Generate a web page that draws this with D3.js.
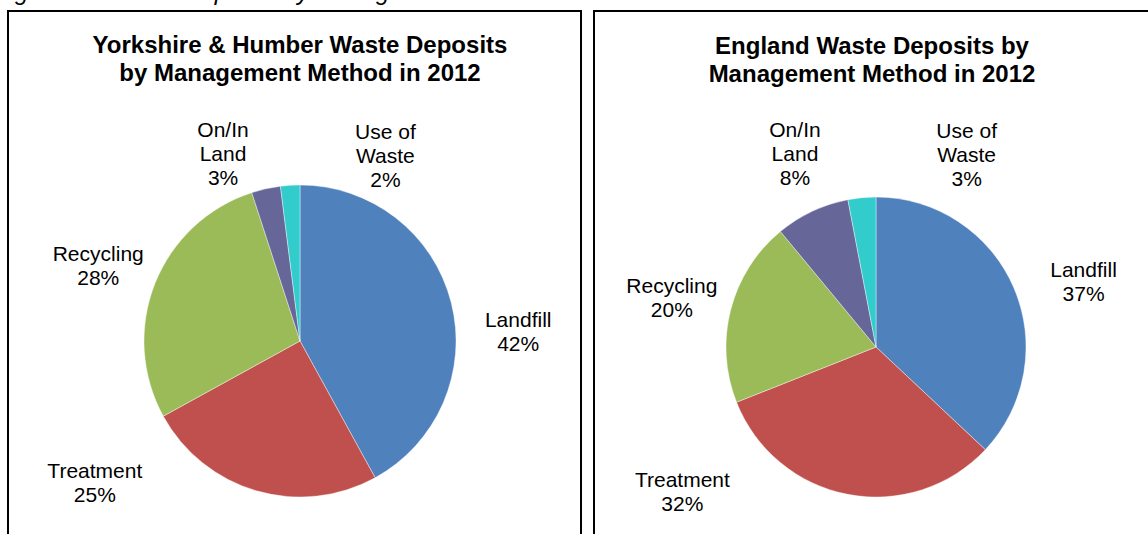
<!DOCTYPE html>
<html>
<head>
<meta charset="utf-8">
<script src="https://cdn.jsdelivr.net/npm/d3@7"></script>
<style>
  html, body { margin: 0; padding: 0; background: #fff; }
  svg { display: block; }
</style>
</head>
<body>
<svg id="chart" width="1148" height="534"></svg>
<script>
// ---- Data ----
const categories = ["Landfill", "Treatment", "Recycling", "On/In Land", "Use of Waste"];
const labelLines = [["Landfill"], ["Treatment"], ["Recycling"], ["On/In", "Land"], ["Use of", "Waste"]];
const yorkshireValues = [42, 25, 28, 3, 2];
const englandValues = [37, 32, 20, 8, 3];
const yorkshireTitle = ["Yorkshire & Humber Waste Deposits", "by Management Method in 2012"];
const englandTitle = ["England Waste Deposits by", "Management Method in 2012"];
const captionText = "Figure 12: Waste Deposits by Management Method";

// ---- Styles / layout ----
const colors = ["#4F81BD", "#C0504D", "#9BBB59", "#666699", "#33CCCC"];
const font = "'Liberation Sans', Arial, sans-serif";

// label placement: polar (angle in degrees clockwise from top, radius factor)
const yorkLabelPolar = [[87.6, 1.40], [235.3, 1.60], [290.4, 1.38], [337.7, 1.30], [24.7, 1.31]];
const engLabelPolar  = [[72.6, 1.45], [233.3, 1.61], [283.5, 1.40], [337.3, 1.40], [25.2, 1.42]];

const panels = [
  { values: yorkshireValues, title: yorkshireTitle, box: [8, 11, 573, 540], cx: 300, cy: 341, r: 156, titleX: 300, titleY: 53, labels: yorkLabelPolar },
  { values: englandValues, title: englandTitle, box: [594, 11, 570, 540], cx: 876, cy: 347, r: 150, titleX: 872, titleY: 54, labels: engLabelPolar }
];

const svg = d3.select("#chart");

// caption above the panels, cut off by the top edge as in the source
svg.append("text")
  .attr("x", -5).attr("y", 0)
  .attr("font-family", font).attr("font-size", 24).attr("font-style", "italic")
  .attr("fill", "#000")
  .text(captionText);

const pie = d3.pie().sort(null).value(d => d);

panels.forEach(p => {
  const g = svg.append("g");
  g.append("rect")
    .attr("x", p.box[0]).attr("y", p.box[1])
    .attr("width", p.box[2]).attr("height", p.box[3])
    .attr("fill", "#fff").attr("stroke", "#000").attr("stroke-width", 2);

  g.selectAll("text.title").data(p.title).enter().append("text")
    .attr("class", "title")
    .attr("x", p.titleX).attr("y", (d, i) => p.titleY + i * 28)
    .attr("text-anchor", "middle")
    .attr("font-family", font).attr("font-size", 24).attr("font-weight", "bold")
    .attr("fill", "#000")
    .text(d => d);

  const arc = d3.arc().innerRadius(0).outerRadius(p.r);
  const arcs = pie(p.values);
  const pg = g.append("g").attr("transform", `translate(${p.cx},${p.cy})`);
  pg.selectAll("path").data(arcs).enter().append("path")
    .attr("d", arc)
    .attr("fill", (d, i) => colors[i])
    .attr("stroke", "#fff").attr("stroke-width", 0.4);

  arcs.forEach((a, i) => {
    const ang = p.labels[i][0] * Math.PI / 180;
    const rr = p.r * p.labels[i][1];
    const x = Math.sin(ang) * rr;
    const y = -Math.cos(ang) * rr;
    const lines = labelLines[i].concat([d3.format(".0f")(a.data) + "%"]);
    const lh = 24;
    const t = pg.append("text")
      .attr("text-anchor", "middle")
      .attr("font-family", font).attr("font-size", 21)
      .attr("fill", "#000");
    lines.forEach((ln, j) => {
      t.append("tspan")
        .attr("x", x)
        .attr("y", y - (lines.length - 1) * lh / 2 + j * lh)
        .attr("dy", "0.35em")
        .text(ln);
    });
  });
});
</script>
</body>
</html>
